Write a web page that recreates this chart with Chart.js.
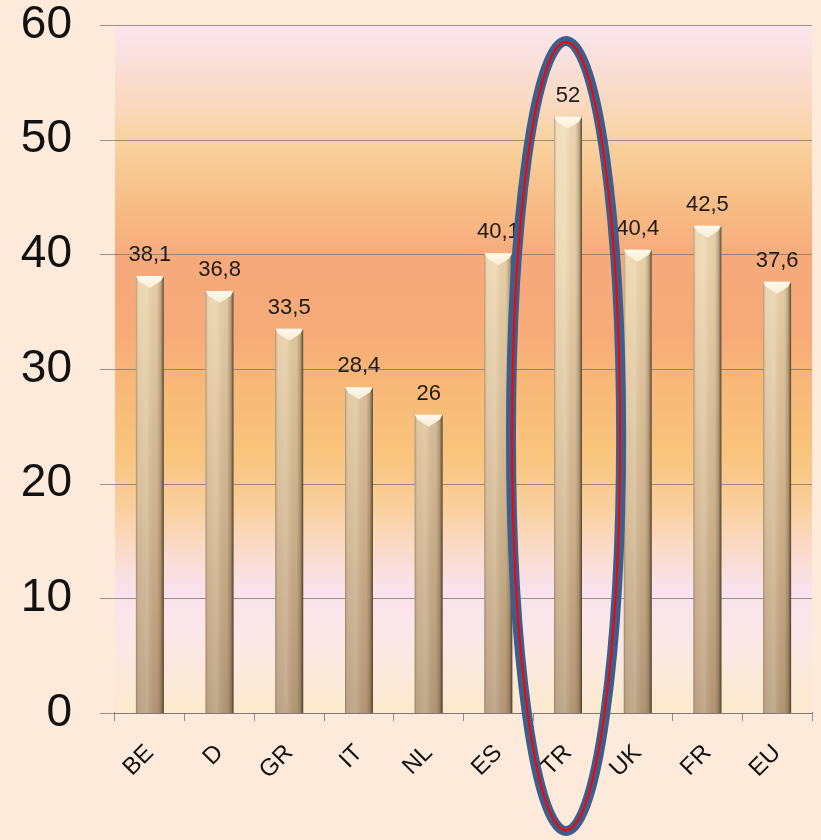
<!DOCTYPE html>
<html>
<head>
<meta charset="utf-8">
<script src="https://cdn.jsdelivr.net/npm/chart.js@4.4.1/dist/chart.umd.min.js"></script>
<style>
  html, body { margin: 0; padding: 0; background: #fdeadb; }
  #wrap { width: 821px; height: 840px; }
</style>
</head>
<body>
<div id="wrap"><canvas id="c" width="821" height="840"></canvas></div>
<script>
// Countries and their values
const categories = ['BE', 'D', 'GR', 'IT', 'NL', 'ES', 'TR', 'UK', 'FR', 'EU'];
const values = [38.1, 36.8, 33.5, 28.4, 26, 40.1, 52, 40.4, 42.5, 37.6];
const yTicks = [0, 10, 20, 30, 40, 50, 60];
// Highlight ring around one category (vertical extent in value units)
const highlightCategory = 'TR';
const highlightRange = [-10.3, 58.6];

const FONT = '"Liberation Sans", Arial, sans-serif';

function fmt(v) { return String(v).replace('.', ','); }

// Warm banded backdrop behind the plot
const plotBackground = {
  id: 'plotBackground',
  beforeDatasetsDraw(chart) {
    const { ctx, chartArea: a } = chart;
    const g = ctx.createLinearGradient(0, a.top, 0, a.bottom);
    const stops = [
      [0, '#fbe6ee'], [0.06, '#fadfd8'], [0.12, '#f9d8bc'], [0.17, '#f8d29e'],
      [0.26, '#f8bd86'], [0.34, '#f6aa7c'], [0.45, '#f7ab78'], [0.52, '#f8b878'],
      [0.62, '#f9c47c'], [0.70, '#f9cf9c'], [0.76, '#fadbc8'], [0.82, '#f9e2ec'],
      [0.90, '#fbe8e6'], [1, '#fbeacc']
    ];
    stops.forEach(s => g.addColorStop(s[0], s[1]));
    ctx.save();
    ctx.fillStyle = g;
    ctx.fillRect(a.left, a.top, a.right - a.left, a.bottom - a.top);
    // horizontal grid on top of the backdrop
    const ys = chart.scales.y;
    ctx.strokeStyle = 'rgba(125,115,105,0.75)';
    ctx.lineWidth = 1;
    yTicks.forEach(t => {
      const y = Math.round(ys.getPixelForValue(t)) + 0.5;
      ctx.beginPath();
      ctx.moveTo(a.left - 15, y);
      ctx.lineTo(a.right, y);
      ctx.stroke();
    });
    ctx.restore();
  }
};

// Cylinder-like shading and bevelled caps on each bar, plus value labels
const barShading = {
  id: 'barShading',
  afterDatasetsDraw(chart) {
    const { ctx } = chart;
    const meta = chart.getDatasetMeta(0);
    ctx.save();
    meta.data.forEach((bar, i) => {
      const x0 = bar.x - bar.width / 2, x1 = bar.x + bar.width / 2;
      const top = bar.y, bottom = bar.base;
      const w = x1 - x0;
      // side shading
      const h = ctx.createLinearGradient(x0, 0, x1, 0);
      h.addColorStop(0, 'rgba(90,70,45,0.45)');
      h.addColorStop(0.1, 'rgba(255,250,235,0.10)');
      h.addColorStop(0.4, 'rgba(255,250,235,0.20)');
      h.addColorStop(0.75, 'rgba(120,95,60,0.05)');
      h.addColorStop(0.9, 'rgba(90,70,45,0.35)');
      h.addColorStop(1, 'rgba(55,40,20,0.85)');
      ctx.fillStyle = h;
      ctx.fillRect(x0, top, w, bottom - top);
      // bevelled cap
      ctx.beginPath();
      ctx.moveTo(x0, top);
      ctx.lineTo(x1, top);
      ctx.lineTo(x1 - 3, top + 5);
      ctx.lineTo(bar.x, top + 12);
      ctx.lineTo(x0 + 3, top + 5);
      ctx.closePath();
      const cg = ctx.createLinearGradient(0, top, 0, top + 12);
      cg.addColorStop(0, 'rgba(255,252,240,0.97)');
      cg.addColorStop(1, 'rgba(250,240,215,0.9)');
      ctx.fillStyle = cg;
      ctx.fill();
      // value label
      ctx.fillStyle = '#1e1a16';
      ctx.font = '22px ' + FONT;
      ctx.textAlign = 'center';
      ctx.textBaseline = 'alphabetic';
      ctx.fillText(fmt(values[i]), bar.x, top - 15);
    });
    ctx.restore();
  }
};

// Elliptical ring drawn around the highlighted category
const highlightRing = {
  id: 'highlightRing',
  afterDraw(chart) {
    const { ctx, scales: { x, y } } = chart;
    const idx = categories.indexOf(highlightCategory);
    const cx = x.getPixelForValue(idx) - 2;
    const yTop = y.getPixelForValue(highlightRange[1]);
    const yBot = y.getPixelForValue(highlightRange[0]);
    const cy = (yTop + yBot) / 2;
    const ry = (yBot - yTop) / 2;
    const rx = (x.getPixelForValue(1) - x.getPixelForValue(0)) * 0.79;
    ctx.save();
    ctx.beginPath();
    ctx.ellipse(cx, cy, rx, ry, 0, 0, Math.PI * 2);
    ctx.strokeStyle = '#3d5e8b';
    ctx.lineWidth = 10;
    ctx.stroke();
    ctx.beginPath();
    ctx.ellipse(cx, cy, rx - 1, ry - 1, 0, 0, Math.PI * 2);
    ctx.strokeStyle = '#ff0000';
    ctx.lineWidth = 2;
    ctx.stroke();
    ctx.restore();
  }
};

const ctx = document.getElementById('c').getContext('2d');
new Chart(ctx, {
  type: 'bar',
  data: {
    labels: categories,
    datasets: [{
      data: values,
      barPercentage: 0.4,
      categoryPercentage: 1,
      borderWidth: 0,
      backgroundColor(c) {
        const a = c.chart.chartArea;
        if (!a) return '#d8bf98';
        const g = c.chart.ctx.createLinearGradient(0, a.top, 0, a.bottom);
        g.addColorStop(0, '#f2e0bc');
        g.addColorStop(0.35, '#ecd4ac');
        g.addColorStop(0.7, '#d2b690');
        g.addColorStop(1, '#b29878');
        return g;
      }
    }]
  },
  options: {
    responsive: false,
    animation: false,
    layout: { padding: { left: 0, right: 9, top: 25, bottom: 0 } },
    plugins: { legend: { display: false }, tooltip: { enabled: false } },
    scales: {
      x: {
        grid: { drawOnChartArea: false, drawTicks: true, tickLength: 8, color: '#8c8c8c', offset: true },
        border: { color: '#8c8c8c', width: 2 },
        ticks: {
          color: '#111',
          font: { family: FONT, size: 24 },
          minRotation: 45, maxRotation: 45,
          padding: 18
        },
        afterFit(s) { s.height = 127; s.paddingLeft = 0; s.paddingRight = 0; }
      },
      y: {
        min: 0, max: 60,
        afterBuildTicks(s) { s.ticks = yTicks.map(v => ({ value: v })); },
        grid: { display: false },
        border: { color: '#8c8c8c', width: 1 },
        ticks: {
          color: '#111',
          font: { family: FONT, size: 46 },
          padding: 35
        },
        afterFit(s) { s.width = 115; s.paddingTop = 0; s.paddingBottom = 0; }
      }
    }
  },
  plugins: [plotBackground, barShading, highlightRing]
});
</script>
</body>
</html>
